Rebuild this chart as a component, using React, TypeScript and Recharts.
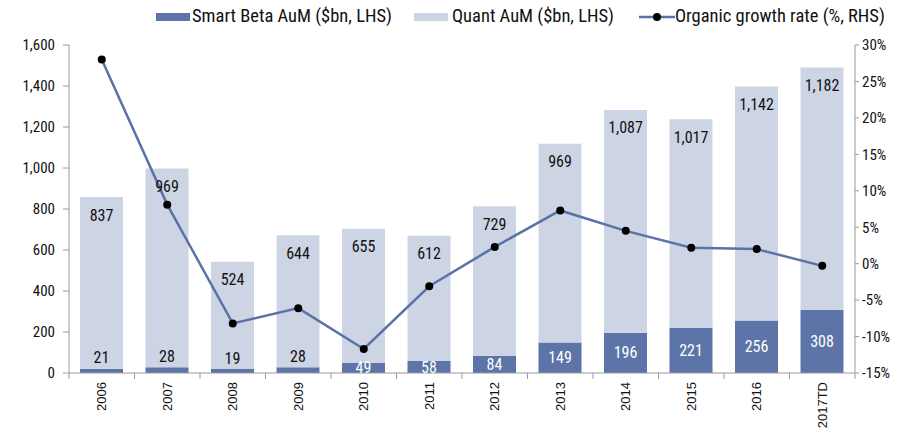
import * as React from 'react'
import {
  Bar,
  ComposedChart,
  LabelList,
  Line,
  XAxis,
  YAxis,
} from 'recharts'

// Smart Beta vs Quant AuM (stacked, LHS) with organic growth rate (RHS)

const years = ['2006', '2007', '2008', '2009', '2010', '2011', '2012', '2013', '2014', '2015', '2016', '2017TD']
const smartBeta = [21, 28, 19, 28, 49, 58, 84, 149, 196, 221, 256, 308]
const quant = [837, 969, 524, 644, 655, 612, 729, 969, 1087, 1017, 1142, 1182]
const organicGrowth = [28.0, 8.1, -8.2, -6.1, -11.7, -3.1, 2.3, 7.3, 4.5, 2.2, 2.0, -0.3]

const lhsTicks = [0, 200, 400, 600, 800, 1000, 1200, 1400, 1600]
const rhsTicks = [-15, -10, -5, 0, 5, 10, 15, 20, 25, 30]

const data = years.map((year, i) => ({
  year,
  smartBeta: smartBeta[i],
  quant: quant[i],
  growth: organicGrowth[i],
}))

const DARK = '#5d74a9'
const LIGHT = '#cdd5e5'
const LINE = '#5b72a9'
const AXIS = '#9a9a9a'
const FONT = "'Liberation Sans Narrow', 'Roboto Condensed', Roboto, sans-serif"

const fmt = (v: number) => v.toLocaleString('en-US')

function SmartLabel(props: any) {
  const { x, y, width, height, value } = props
  const cx = x + width / 2
  if (value < 40) {
    return (
      <text x={cx} y={y - 11} textAnchor="middle" dominantBaseline="central" fill="#111" fontSize={16} fontFamily={FONT}>
        {fmt(value)}
      </text>
    )
  }
  return (
    <text x={cx} y={y + height / 2} textAnchor="middle" dominantBaseline="central" fill="#fff" fontSize={16} fontFamily={FONT}>
      {fmt(value)}
    </text>
  )
}

function QuantLabel(props: any) {
  const { x, y, width, value } = props
  return (
    <text x={x + width / 2} y={y + 18} textAnchor="middle" dominantBaseline="central" fill="#111" fontSize={16} fontFamily={FONT}>
      {fmt(value)}
    </text>
  )
}

const BAND = (855 - 69) / years.length

function YearTick(props: any) {
  const { x, y, payload, index } = props
  return (
    <g>
      <line x1={x - BAND / 2} x2={x - BAND / 2} y1={y - 8} y2={y - 2} stroke={AXIS} />
      {index === years.length - 1 && (
        <line x1={x + BAND / 2} x2={x + BAND / 2} y1={y - 8} y2={y - 2} stroke={AXIS} />
      )}
      <text
        x={x}
        y={y + 1}
        transform={`rotate(-90, ${x}, ${y + 1})`}
        textAnchor="end"
        dominantBaseline="central"
        fontSize={13}
        fontFamily="'Liberation Sans', Arial, sans-serif"
        fill="#111"
      >
        {payload.value}
      </text>
    </g>
  )
}

function LegendRow() {
  const text: React.CSSProperties = { position: 'absolute', top: 4, fontFamily: FONT, fontSize: 18.5, lineHeight: '24px', color: '#111', whiteSpace: 'nowrap' }
  return (
    <>
      <div style={{ position: 'absolute', left: 156, top: 13, width: 34, height: 8, background: DARK }} />
      <div style={{ ...text, left: 192 }}>Smart Beta AuM ($bn, LHS)</div>
      <div style={{ position: 'absolute', left: 414, top: 13, width: 34, height: 8, background: LIGHT }} />
      <div style={{ ...text, left: 452 }}>Quant AuM ($bn, LHS)</div>
      <svg width={36} height={12} style={{ position: 'absolute', left: 639, top: 11 }}>
        <line x1={0} x2={36} y1={6} y2={6} stroke={LINE} strokeWidth={2.5} />
        <circle cx={18} cy={6} r={4} fill="#000" />
      </svg>
      <div style={{ ...text, left: 675 }}>Organic growth rate (%, RHS)</div>
    </>
  )
}

export default function App() {
  return (
    <div style={{ position: 'relative', width: 913, height: 430, background: '#fff', overflow: 'hidden' }}>
      <style>{'body{margin:0}'}</style>
      <LegendRow />
      <ComposedChart
        width={913}
        height={430}
        data={data}
        margin={{ top: 45, right: 0, bottom: 0, left: 0 }}
        barSize={43}
      >
        <XAxis
          dataKey="year"
          xAxisId="x"
          height={57}
          axisLine={{ stroke: AXIS }}
          tickLine={false}
          tick={<YearTick />}
          interval={0}
        />
        <YAxis
          yAxisId="left"
          domain={[0, 1600]}
          ticks={lhsTicks}
          width={69}
          axisLine={{ stroke: AXIS }}
          tickLine={{ stroke: AXIS }}
          tickSize={6}
          tickMargin={8}
          tickFormatter={fmt}
          tick={{ fill: '#111', fontSize: 15, fontFamily: FONT }}
          interval={0}
        />
        <YAxis
          yAxisId="right"
          orientation="right"
          domain={[-15, 30]}
          ticks={rhsTicks}
          width={58}
          axisLine={{ stroke: AXIS }}
          tickLine={{ stroke: AXIS }}
          tickSize={4}
          tickMargin={3}
          tickFormatter={(v: number) => `${v}%`}
          tick={{ fill: '#111', fontSize: 15, fontFamily: FONT }}
          interval={0}
        />
        <Bar dataKey="smartBeta" stackId="aum" xAxisId="x" yAxisId="left" fill={DARK} isAnimationActive={false}>
          <LabelList dataKey="smartBeta" content={<SmartLabel />} />
        </Bar>
        <Bar dataKey="quant" stackId="aum" xAxisId="x" yAxisId="left" fill={LIGHT} isAnimationActive={false}>
          <LabelList dataKey="quant" content={<QuantLabel />} />
        </Bar>
        <Line
          dataKey="growth"
          xAxisId="x"
          yAxisId="right"
          type="linear"
          stroke={LINE}
          strokeWidth={2.5}
          dot={{ r: 4, fill: '#000', stroke: '#000', strokeWidth: 0 }}
          activeDot={false}
          isAnimationActive={false}
        />
      </ComposedChart>
    </div>
  )
}
